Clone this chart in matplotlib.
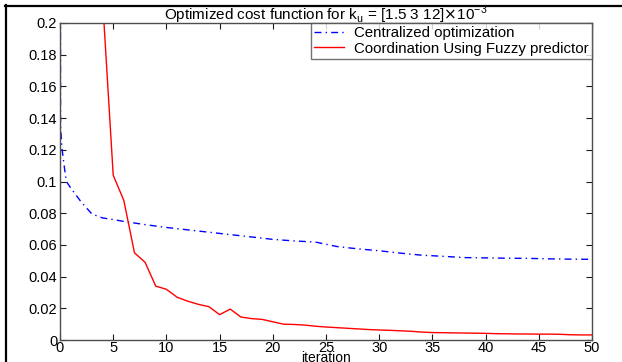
import matplotlib.pyplot as plt
from matplotlib.lines import Line2D

# data
blue_iter = [0, 0.05, 0.2, 0.45, 0.6, 1, 2, 3, 4, 5, 6, 8, 10, 12, 14, 16, 18,
             20, 22, 24, 26, 28, 30, 32, 34, 36, 38, 40, 42, 44, 46, 48, 50]
blue_cost = [0.6, 0.135, 0.12, 0.107, 0.1, 0.096, 0.087, 0.0795, 0.077, 0.076,
             0.0748, 0.0728, 0.071, 0.0695, 0.068, 0.0665, 0.065, 0.0635, 0.0625,
             0.0618, 0.059, 0.0575, 0.0563, 0.0548, 0.0535, 0.0528, 0.052, 0.0518,
             0.0516, 0.0515, 0.0512, 0.051, 0.0509]

red_iter = list(range(3, 51))
red_cost = [0.35, 0.215, 0.104, 0.088, 0.055, 0.049, 0.034, 0.032, 0.027, 0.0245,
            0.0225, 0.021, 0.016, 0.0195, 0.0145, 0.0135, 0.013, 0.0115, 0.010,
            0.0098, 0.0094, 0.0087, 0.0082, 0.0078, 0.0074, 0.0070, 0.0066, 0.0063,
            0.0061, 0.0058, 0.0055, 0.0050, 0.0047, 0.0046, 0.0045, 0.0044, 0.0043,
            0.0042, 0.0040, 0.0039, 0.0038, 0.0038, 0.0037, 0.0037, 0.0036, 0.0033,
            0.0032, 0.0032]

xticks = list(range(0, 51, 5))
yticks = [0, 0.02, 0.04, 0.06, 0.08, 0.1, 0.12, 0.14, 0.16, 0.18, 0.2]
ytick_labels = ['0', '0.02', '0.04', '0.06', '0.08', '0.1', '0.12', '0.14', '0.16', '0.18', '0.2']

plt.rcParams['font.family'] = ['Liberation Sans', 'DejaVu Sans']

fig = plt.figure(figsize=(6.22, 3.62), dpi=100)
ax = fig.add_axes([60 / 622, 22 / 362, 532 / 622, 317 / 362])

ax.plot(blue_iter, blue_cost, color='blue', lw=1, dashes=(5, 3, 1, 3),
        label='Centralized optimization')
ax.plot(red_iter, red_cost, color='red', lw=1,
        label='Coordination Using Fuzzy predictor')

ax.set_xlim(0, 50)
ax.set_ylim(0, 0.2)
ax.set_xticks(xticks)
ax.set_yticks(yticks)
ax.set_yticklabels(ytick_labels)
ax.tick_params(direction='in', top=True, right=True, length=4,
               labelsize=10.5, pad=2, color='0.1')
ax.tick_params(axis='x', pad=1)
for s in ax.spines.values():
    s.set_color('0.3')
    s.set_linewidth(1)

ax.set_title(r'Optimized cost function for k$_\mathregular{u}$ = [1.5 3 12]$\times$10$^\mathregular{-3}$',
             fontsize=11, pad=2)
ax.set_xlabel('iteration', fontsize=10, labelpad=-3)

leg = ax.legend(loc='upper right', fontsize=10.8, frameon=True, fancybox=False,
                borderaxespad=0, handlelength=2.0, borderpad=0.2,
                labelspacing=0.1, handletextpad=0.7)
leg.get_frame().set_edgecolor('0.3')
leg.get_frame().set_linewidth(1)

# outer black frame lines (top and left)
fig.add_artist(Line2D([5 / 622, 1], [1 - 6 / 362, 1 - 6 / 362], color='black', lw=1.6))
fig.add_artist(Line2D([6 / 622, 6 / 622], [0, 1 - 5 / 362], color='black', lw=1.6))

fig.savefig('out.png', dpi=100)
